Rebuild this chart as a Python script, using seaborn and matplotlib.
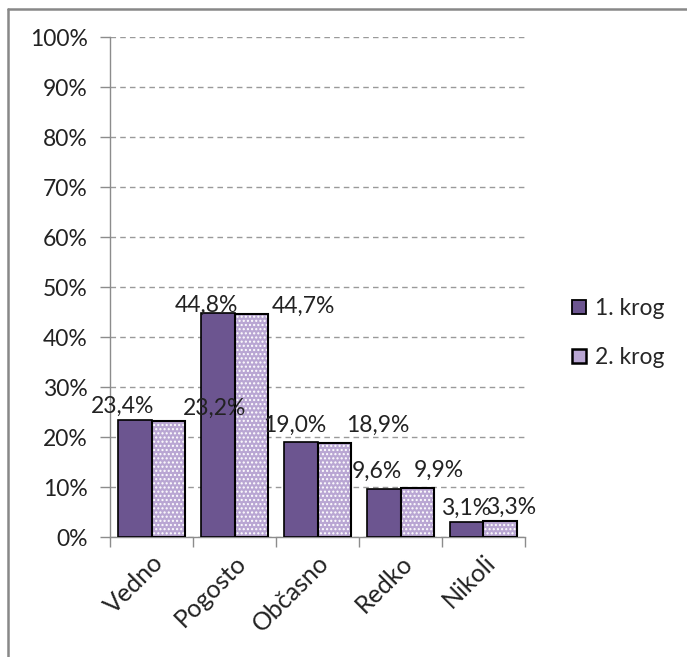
import matplotlib
matplotlib.use("Agg")
import matplotlib.pyplot as plt
from matplotlib.patches import Rectangle
from matplotlib.lines import Line2D
import seaborn as sns
import pandas as pd

categories = ["Vedno", "Pogosto", "Občasno", "Redko", "Nikoli"]
series_names = ["1. krog", "2. krog"]
krog1 = [23.4, 44.8, 19.0, 9.6, 3.1]
krog2 = [23.2, 44.7, 18.9, 9.9, 3.3]
y_ticks = [0, 10, 20, 30, 40, 50, 60, 70, 80, 90, 100]

df = pd.DataFrame({
    "kategorija": categories * 2,
    "krog": [series_names[0]] * len(categories) + [series_names[1]] * len(categories),
    "delez": krog1 + krog2,
})

sns.set_theme(style="white")
plt.rcParams["font.family"] = ["Lato", "DejaVu Sans"]
plt.rcParams["hatch.linewidth"] = 1.0
FS = 16.5
FSX = 18

C1 = "#6c5590"
C2 = "#b9a6d3"

fig = plt.figure(figsize=(6.87, 6.57), dpi=100)
ax = fig.add_axes([110 / 687, 1 - 537 / 657, 415 / 687, 500 / 657])

sns.barplot(data=df, x="kategorija", y="delez", hue="krog", order=categories,
            hue_order=series_names, palette=[C1, C2], width=0.807, dodge=True,
            ax=ax, legend=False, saturation=1)

n = len(categories)
patches = [p for p in ax.patches if isinstance(p, Rectangle)]
bars1 = patches[:n]
bars2 = patches[n:2 * n]
for p in bars1:
    p.set_edgecolor("black")
    p.set_linewidth(1.2)
    p.set_zorder(3)
for p in bars2:
    p.set_facecolor(C2)
    p.set_edgecolor("white")
    p.set_hatch("....")
    p.set_linewidth(0)
    p.set_zorder(3)
    outline = Rectangle(p.get_xy(), p.get_width(), p.get_height(), facecolor="none",
                        edgecolor="black", linewidth=1.5, zorder=4)
    ax.add_patch(outline)

# label offsets in pixels (dx from bar centre, dy above bar top)
off1 = [(-12, 14), (-11, 8), (-6, 17), (-7, 18), (-1, 13)]
off2 = [(46, 13), (52, 7), (44, 17), (22, 17), (11, 13)]
for bars, vals, offs in [(bars1, krog1, off1), (bars2, krog2, off2)]:
    for p, v, (dx, dy) in zip(bars, vals, offs):
        cx = p.get_x() + p.get_width() / 2
        ax.annotate(f"{v:.1f}%".replace(".", ","), xy=(cx, v), xytext=(dx, dy),
                    textcoords="offset pixels", ha="center", va="center",
                    fontsize=FS, color="#222222", zorder=6, annotation_clip=False)

ax.set_ylim(0, 100)
ax.set_xlim(-0.5, n - 0.5)
ax.set_yticks(y_ticks)
ax.set_yticklabels([f"{t}%" for t in y_ticks], fontsize=FS, color="#222222")
ax.yaxis.grid(True, color="#9a9a9a", linestyle=(0, (4, 3)), linewidth=1)
ax.set_axisbelow(True)
ax.tick_params(axis="y", length=7, width=1, color="#8c8c8c", pad=9, left=True)

ax.set_xticks(range(n))
ax.set_xticklabels(categories, rotation=45, ha="right", rotation_mode="anchor",
                   fontsize=FSX, color="#222222")
ax.set_xticks([i - 0.5 for i in range(n + 1)], minor=True)
ax.tick_params(axis="x", which="major", length=0, pad=10)
ax.tick_params(axis="x", which="minor", length=7, width=1, color="#8c8c8c", bottom=True)
ax.set_xlabel("")
ax.set_ylabel("")

for s in ["top", "right"]:
    ax.spines[s].set_visible(False)
for s in ["left", "bottom"]:
    ax.spines[s].set_color("#8c8c8c")
    ax.spines[s].set_linewidth(1)

handles = [
    Line2D([], [], marker="s", linestyle="none", markersize=10,
           markerfacecolor=C1, markeredgecolor="black", markeredgewidth=1.3),
    Line2D([], [], marker="s", linestyle="none", markersize=10,
           markerfacecolor=C2, markeredgecolor="black", markeredgewidth=1.8),
]
fig.legend(handles, series_names, loc="center left",
           bbox_to_anchor=(558 / 687, 1 - 333 / 657), frameon=False,
           fontsize=FS, handlelength=0.8, handletextpad=0.3, labelspacing=1.2,
           borderpad=0)

# chart border
fig.add_artist(Line2D([8 / 687, 8 / 687], [0, 1 - 8.5 / 657], color="#888888",
                      linewidth=1.8, transform=fig.transFigure))
fig.add_artist(Line2D([8 / 687, 1], [1 - 8.5 / 657, 1 - 8.5 / 657], color="#888888",
                      linewidth=1.8, transform=fig.transFigure))

fig.savefig("out.png", dpi=100)
